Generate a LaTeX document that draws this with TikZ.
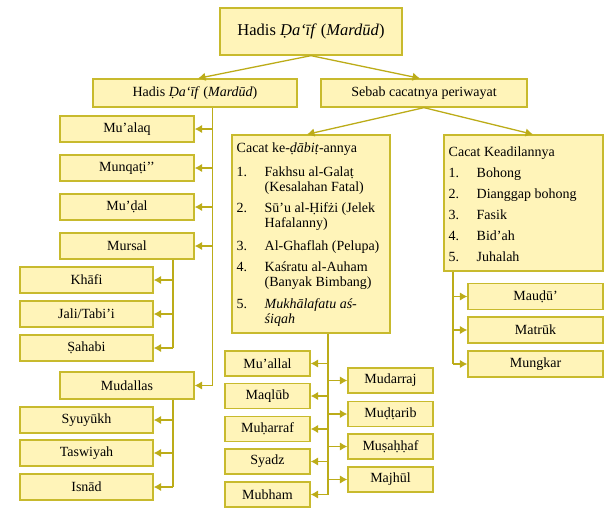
\documentclass[tikz,border=0pt]{standalone}
\usepackage{fontspec}
\setmainfont{Liberation Serif}
\usetikzlibrary{arrows.meta}
\definecolor{fillc}{RGB}{255,244,185}
\definecolor{bordc}{RGB}{200,186,45}
\definecolor{linec}{RGB}{188,172,25}
\begin{document}
\begin{tikzpicture}[x=1pt,y=-1pt,
  box/.style={draw=bordc, fill=fillc, line width=1.3pt, inner sep=0pt,
    font=\fontsize{14}{15}\selectfont},
  conn/.style={draw=linec, line width=1.3pt, -{Latex[length=7.5pt,width=8.5pt]}},
  plain/.style={draw=linec, line width=1.3pt},
  listtext/.style={inner sep=0pt, anchor=base west, font=\fontsize{14}{15}\selectfont}]
\useasboundingbox (0,0) rectangle (611,515);

% top
\node[box, minimum width=182, minimum height=47, font=\fontsize{16.5}{19}\selectfont] (top) at (311,31.5) {Hadis \textit{Ḍa‘īf} (\textit{Mardūd})};
\node[box, minimum width=204, minimum height=28] (hd) at (195,93) {Hadis \textit{Ḍa‘īf} (\textit{Mardūd})};
\node[box, minimum width=206, minimum height=28] (sebab) at (424,93) {Sebab cacatnya periwayat};

% left column
\node[box, minimum width=134, minimum height=26] (mualaq) at (127,129) {Mu’alaq};
\node[box, minimum width=134, minimum height=26] (munqati) at (127,168) {Munqaṭi’’};
\node[box, minimum width=134, minimum height=26] (mudal) at (127,207) {Mu’ḍal};
\node[box, minimum width=134, minimum height=26] (mursal) at (127,246) {Mursal};
\node[box, minimum width=133, minimum height=26] (khafi) at (86.5,280) {Khāfi};
\node[box, minimum width=133, minimum height=26] (jali) at (86.5,314) {Jali/Tabi’i};
\node[box, minimum width=133, minimum height=26] (sahabi) at (86.5,348) {Ṣahabi};
\node[box, minimum width=134, minimum height=27] (mudallas) at (127,385.5) {Mudallas};
\node[box, minimum width=133, minimum height=26] (syuyukh) at (86.5,420) {Syuyūkh};
\node[box, minimum width=133, minimum height=26] (taswiyah) at (86.5,453) {Taswiyah};
\node[box, minimum width=133, minimum height=26] (isnad) at (86.5,487) {Isnād};

% middle box
\node[box, minimum width=158, minimum height=198] (dabit) at (311,234) {};
\node[listtext] (dabittext) at (236.5,152.5) {%
\begin{tabular}[t]{@{}p{28pt}@{}l@{}}
\multicolumn{2}{@{}l@{}}{Cacat ke-\textit{ḍābiṭ}-annya}\\[9pt]
1. & Fakhsu al-Galaṭ\\
   & (Kesalahan Fatal)\\[6pt]
2. & Sū’u al-Ḥifżi (Jelek\\
   & Hafalanny)\\[8pt]
3. & Al-Ghaflah (Pelupa)\\[6pt]
4. & Kaśratu al-Auham\\
   & (Banyak Bimbang)\\[7pt]
5. & \textit{Mukhālafatu aś-}\\
   & \textit{śiqah}
\end{tabular}};

% right box
\node[box, minimum width=159, minimum height=136] (kead) at (523.5,203) {};
\node[listtext] (keadtext) at (448.5,156.5) {%
\begin{tabular}[t]{@{}p{28pt}@{}l@{}}
\multicolumn{2}{@{}l@{}}{Cacat Keadilannya}\\[6pt]
1. & Bohong\\[6pt]
2. & Dianggap bohong\\[6pt]
3. & Fasik\\[6pt]
4. & Bid’ah\\[6pt]
5. & Juhalah
\end{tabular}};

\node[box, minimum width=135, minimum height=26] (maudu) at (535.5,296.5) {Mauḍū’};
\node[box, minimum width=135, minimum height=26] (matruk) at (535.5,330) {Matrūk};
\node[box, minimum width=135, minimum height=26] (mungkar) at (535.5,364) {Mungkar};

% bottom middle
\node[box, minimum width=85, minimum height=25] (muallal) at (267.5,363.5) {Mu’allal};
\node[box, minimum width=85, minimum height=25] (maqlub) at (267.5,396) {Maqlūb};
\node[box, minimum width=85, minimum height=25] (muharraf) at (267.5,429) {Muḥarraf};
\node[box, minimum width=85, minimum height=25] (syadz) at (267.5,461.5) {Syadz};
\node[box, minimum width=85, minimum height=25] (mubham) at (267.5,494.5) {Mubham};
\node[box, minimum width=85, minimum height=25] (mudarraj) at (390.5,380.5) {Mudarraj};
\node[box, minimum width=85, minimum height=25] (mudtarib) at (390.5,414) {Muḍṭarib};
\node[box, minimum width=85, minimum height=25] (musahhaf) at (390.5,446.5) {Muṣaḥḥaf};
\node[box, minimum width=85, minimum height=25] (majhul) at (390.5,479.5) {Majhūl};

% guide coordinates
\coordinate (mainx) at (212.5,0);
\coordinate (subx) at (173,0);
\coordinate (midx) at (328,0);
\coordinate (rightx) at (453,0);

% connectors
\draw[conn] (top.south) -- ([xshift=3]hd.north);
\draw[conn] (top.south) -- ([xshift=-4]sebab.north);
\draw[conn] (sebab.south) -- ([xshift=-4]dabit.north);
\draw[conn] (sebab.south) -- ([xshift=9.5]kead.north);

\draw[plain] (hd.south -| mainx) -- (mudallas.east -| mainx);
\foreach \n in {mualaq,munqati,mudal,mursal,mudallas}
  \draw[conn] (\n.east -| mainx) -- (\n.east);

\draw[plain] (mursal.south -| subx) -- (sahabi.east -| subx);
\foreach \n in {khafi,jali,sahabi}
  \draw[conn] (\n.east -| subx) -- (\n.east);

\draw[plain] (mudallas.south -| subx) -- (isnad.east -| subx);
\foreach \n in {syuyukh,taswiyah,isnad}
  \draw[conn] (\n.east -| subx) -- (\n.east);

\draw[plain] (dabit.south -| midx) -- (mubham.east -| midx);
\foreach \n in {muallal,maqlub,muharraf,syadz,mubham}
  \draw[conn] (\n.east -| midx) -- (\n.east);
\foreach \n in {mudarraj,mudtarib,musahhaf,majhul}
  \draw[conn] (\n.west -| midx) -- (\n.west);

\draw[plain] (kead.south -| rightx) -- (mungkar.west -| rightx);
\foreach \n in {maudu,matruk,mungkar}
  \draw[conn] (\n.west -| rightx) -- (\n.west);
\end{tikzpicture}
\end{document}
